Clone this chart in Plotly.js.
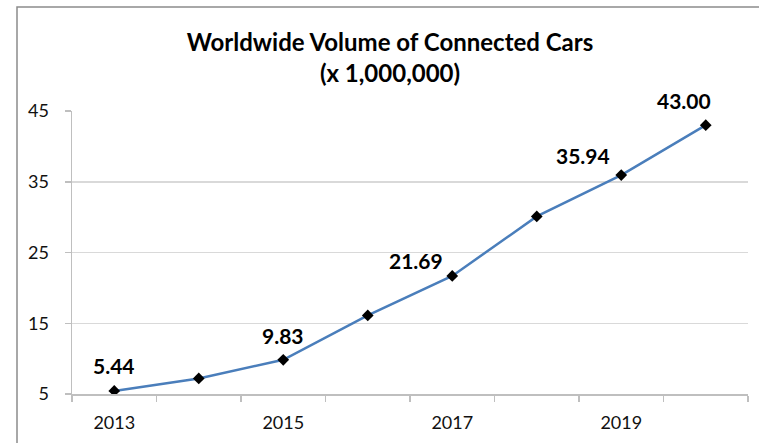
<!DOCTYPE html>
<html>
<head>
<meta charset="utf-8">
<script src="https://cdn.plot.ly/plotly-3.0.1.min.js"></script>
<style>html,body{margin:0;padding:0;background:#fff;}#chart{width:759px;height:443px;}</style>
</head>
<body>
<div id="chart"></div>
<script>
const years = [2013, 2014, 2015, 2016, 2017, 2018, 2019, 2020];
const volumes = [5.44, 7.2, 9.83, 16.1, 21.69, 30.1, 35.94, 43.00];
const labelYears = [2013, 2015, 2017, 2019, 2020];
const labelValues = [5.44, 9.83, 21.69, 35.94, 43.00];
const labelTexts = ['5.44', '9.83', '21.69', '35.94', '43.00'];
const xTickVals = [2013, 2015, 2017, 2019];
const xTickText = ['2013', '2015', '2017', '2019'];
const yTickVals = [5, 15, 25, 35, 45];

const xShifts = [0, 0, -36, -38, -22];
const yShifts = [25, 24, 15, 20, 25];

const font = 'Lato, "Open Sans", sans-serif';

const trace = {
  x: years, y: volumes, type: 'scatter', mode: 'lines+markers',
  line: {color: '#4A7EBB', width: 2.5},
  marker: {symbol: 'diamond', size: 9, color: '#000'},
  hoverinfo: 'skip'
};

const annotations = labelYears.map((yr, i) => ({
  x: yr, y: labelValues[i], xref: 'x', yref: 'y', text: labelTexts[i],
  showarrow: false, xshift: xShifts[i], yshift: yShifts[i],
  font: {family: font, size: 21, color: '#000', weight: 'bold'}
}));

const layout = {
  width: 759, height: 443,
  margin: {l: 72, r: 11, t: 111, b: 49},
  paper_bgcolor: '#fff', plot_bgcolor: '#fff',
  showlegend: false,
  title: {
    text: '<b>Worldwide Volume of Connected Cars<br>(x 1,000,000)</b>',
    x: 390/759, xref: 'container', xanchor: 'center',
    y: 1 - 51/443, yref: 'container', yanchor: 'middle',
    font: {family: font, size: 24, color: '#000'}
  },
  xaxis: {
    range: [2012.5, 2020.5], tickvals: xTickVals, ticktext: xTickText,
    ticks: '', showgrid: false, zeroline: false,
    showline: true, linecolor: '#BFBFBF', linewidth: 1.5,
    tickfont: {family: font, size: 18, color: '#111'},
    ticklabelstandoff: 12,
    minor: {tick0: 2012.5, dtick: 1, ticks: 'outside', ticklen: 6, tickcolor: '#BFBFBF', tickwidth: 1.5, showgrid: false}
  },
  yaxis: {
    range: [5, 45], tickvals: yTickVals,
    ticks: 'outside', ticklen: 6, tickcolor: '#BFBFBF', tickwidth: 1.5,
    showgrid: true, gridcolor: '#D9D9D9', gridwidth: 1.5, zeroline: false,
    showline: true, linecolor: '#BFBFBF', linewidth: 1.5,
    tickfont: {family: font, size: 18, color: '#111'},
    ticklabelstandoff: 12
  },
  shapes: [{
    type: 'rect', xref: 'paper', yref: 'paper',
    x0: (17-72)/676, x1: 1.1, y0: -0.4, y1: (394-7)/283,
    line: {color: '#8C8C8C', width: 1.5}, fillcolor: 'rgba(0,0,0,0)', layer: 'below'
  }],
  annotations: annotations
};

Plotly.newPlot('chart', [trace], layout, {displayModeBar: false, staticPlot: true});
</script>
</body>
</html>
